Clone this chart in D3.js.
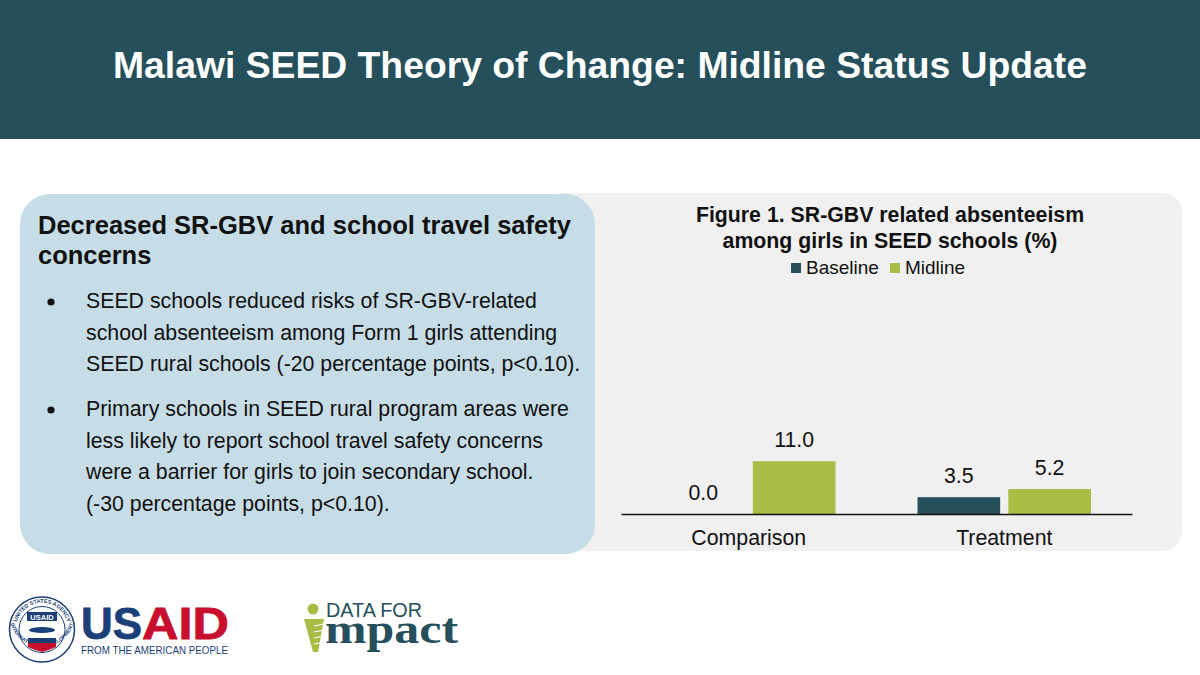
<!DOCTYPE html>
<html>
<head>
<meta charset="utf-8">
<script src="https://cdn.jsdelivr.net/npm/d3@7"></script>
<style>
  html, body { margin: 0; padding: 0; background: #fff; }
  svg { display: block; }
  text { font-family: "Liberation Sans", Arial, sans-serif; fill: #111; }
</style>
</head>
<body>
<script>
// Data
const categories = ["Comparison", "Treatment"];
const seriesNames = ["Baseline", "Midline"];
const baseline = [0.0, 3.5];
const midline = [11.0, 5.2];

const pageTitle = "Malawi SEED Theory of Change: Midline Status Update";
const chartTitle = ["Figure 1. SR-GBV related absenteeism", "among girls in SEED schools (%)"];
const heading = ["Decreased SR-GBV and school travel safety", "concerns"];
const bullets = [
  ["SEED schools reduced risks of SR-GBV-related", "school absenteeism among Form 1 girls attending", "SEED rural schools (-20 percentage points, p<0.10)."],
  ["Primary schools in SEED rural program areas were", "less likely to report school travel safety concerns", "were a barrier for girls to join secondary school.", "(-30 percentage points, p<0.10)."]
];

const colors = { Baseline: "#264f5c", Midline: "#a7bd45" };

const svg = d3.select("body").append("svg")
  .attr("width", 1200)
  .attr("height", 675);

// Header band
svg.append("rect").attr("width", 1200).attr("height", 139).attr("fill", "#264f5c");
svg.append("text")
  .attr("x", 600).attr("y", 78)
  .attr("text-anchor", "middle")
  .style("font-size", "37.3px").style("font-weight", "bold").style("fill", "#fff")
  .text(pageTitle);

// Panels
svg.append("rect").attr("x", 540).attr("y", 193).attr("width", 642).attr("height", 358)
  .attr("rx", 20).attr("fill", "#f0f0f0");
svg.append("rect").attr("x", 20).attr("y", 194).attr("width", 575).attr("height", 360)
  .attr("rx", 30).attr("fill", "#c6dde7");

// Left text
svg.selectAll(".heading")
  .data(heading)
  .enter().append("text")
  .attr("class", "heading")
  .attr("x", 38)
  .attr("y", (d, i) => 234 + i * 30)
  .style("font-size", "25.5px").style("font-weight", "bold")
  .text(d => d);

const bulletTop = [308, 416];
const lineGap = 31.6;
bullets.forEach((lines, b) => {
  svg.append("circle").attr("cx", 51).attr("cy", bulletTop[b] - 6).attr("r", 3.6).attr("fill", "#111");
  svg.selectAll(".b" + b)
    .data(lines)
    .enter().append("text")
    .attr("class", "b" + b)
    .attr("x", 86)
    .attr("y", (d, i) => bulletTop[b] + i * lineGap)
    .style("font-size", "21.3px")
    .text(d => d);
});

// Chart
const margin = { left: 621, top: 300, right: 68, bottom: 161 };
const plotW = 1200 - margin.left - margin.right;
const plotH = 675 - margin.top - margin.bottom;
const chart = svg.append("g").attr("transform", `translate(${margin.left},${margin.top})`);

const x0 = d3.scaleBand().domain(categories).range([0, plotW]);
const x1 = d3.scaleBand().domain(seriesNames).range([41, x0.bandwidth() - 41]).paddingInner(0.09);
const y = d3.scaleLinear().domain([0, 44.6]).range([plotH, 0]);

const rows = categories.map((c, i) => ({ c, Baseline: baseline[i], Midline: midline[i] }));
const groups = chart.selectAll(".group").data(rows).enter().append("g")
  .attr("class", "group")
  .attr("transform", d => `translate(${x0(d.c)},0)`);

const cells = groups.selectAll("g")
  .data(d => seriesNames.map(s => ({ s, v: d[s] })))
  .enter().append("g");

cells.append("rect")
  .attr("x", d => x1(d.s))
  .attr("y", d => y(d.v))
  .attr("width", x1.bandwidth())
  .attr("height", d => plotH - y(d.v))
  .attr("fill", d => colors[d.s]);

cells.append("text")
  .attr("x", d => x1(d.s) + x1.bandwidth() / 2)
  .attr("y", d => y(d.v) - 14)
  .attr("text-anchor", "middle")
  .style("font-size", "21.3px")
  .text(d => d.v.toFixed(1));

const xAxis = chart.append("g")
  .attr("transform", `translate(0,${plotH})`)
  .call(d3.axisBottom(x0).tickSize(0).tickPadding(16));
xAxis.select(".domain").attr("stroke", "#111").attr("stroke-width", 1.6);
xAxis.selectAll("text")
  .style("font-size", "21.3px")
  .style("font-family", '"Liberation Sans", Arial, sans-serif')
  .style("fill", "#111");

// Chart title
svg.selectAll(".ctitle")
  .data(chartTitle)
  .enter().append("text")
  .attr("class", "ctitle")
  .attr("x", 890)
  .attr("y", (d, i) => 222 + i * 26)
  .attr("text-anchor", "middle")
  .style("font-size", "21.3px").style("font-weight", "bold")
  .text(d => d);

// Legend
const legendX = { Baseline: 791, Midline: 890 };
seriesNames.forEach(s => {
  svg.append("rect").attr("x", legendX[s]).attr("y", 263).attr("width", 10).attr("height", 10).attr("fill", colors[s]);
  svg.append("text").attr("x", legendX[s] + 15).attr("y", 274)
    .style("font-size", "19px").text(s);
});

// USAID logo
const usaid = svg.append("g");
usaid.append("circle").attr("cx", 42).attr("cy", 629.5).attr("r", 32.5)
  .attr("fill", "#fff").attr("stroke", "#1c3f78").attr("stroke-width", 1.5);
usaid.append("circle").attr("cx", 42).attr("cy", 629.5).attr("r", 23)
  .attr("fill", "#fff").attr("stroke", "#1c3f78").attr("stroke-width", 1);
usaid.append("path").attr("id", "sealTop").attr("d", "M17,636 A26,26 0 1 1 67,636").attr("fill", "none");
usaid.append("path").attr("id", "sealBot").attr("d", "M10,622 A33,33 0 0 0 74,622").attr("fill", "none");
usaid.append("text").style("font-size", "5.5px").style("font-weight", "bold").style("fill", "#1c3f78")
  .append("textPath").attr("href", "#sealTop").attr("startOffset", "50%").attr("text-anchor", "middle")
  .text("UNITED STATES AGENCY");
usaid.append("text").style("font-size", "5.2px").style("font-weight", "bold").style("fill", "#1c3f78")
  .append("textPath").attr("href", "#sealBot").attr("startOffset", "50%").attr("text-anchor", "middle")
  .attr("dy", "-1")
  .text("INTERNATIONAL DEVELOPMENT");
usaid.append("rect").attr("x", 27).attr("y", 612).attr("width", 30).attr("height", 9).attr("fill", "#1c3f78");
usaid.append("text").attr("x", 42).attr("y", 619.5).attr("text-anchor", "middle")
  .style("font-size", "7.5px").style("font-weight", "bold").style("fill", "#fff").text("USAID");
usaid.append("ellipse").attr("cx", 42).attr("cy", 630).attr("rx", 13).attr("ry", 3).attr("fill", "#1c3f78");
usaid.append("rect").attr("x", 28).attr("y", 638).attr("width", 28).attr("height", 5).attr("fill", "#1c3f78");
usaid.append("path").attr("d", "M28,643 H56 V647 Q50,650 42,652 Q34,650 28,647 Z").attr("fill", "#c8102e");
usaid.append("text").attr("x", 81).attr("y", 639)
  .style("font-size", "44px").style("font-weight", "bold").style("fill", "#1c3f78")
  .style("stroke", "#1c3f78").style("stroke-width", 0.8)
  .attr("textLength", 61).attr("lengthAdjust", "spacingAndGlyphs").text("US");
usaid.append("text").attr("x", 142).attr("y", 639)
  .style("font-size", "44px").style("font-weight", "bold").style("fill", "#c8102e")
  .style("stroke", "#c8102e").style("stroke-width", 0.8)
  .attr("textLength", 87).attr("lengthAdjust", "spacingAndGlyphs").text("AID");
usaid.append("text").attr("x", 81).attr("y", 653.5)
  .style("font-size", "11px").style("fill", "#1c3f78")
  .attr("textLength", 147).attr("lengthAdjust", "spacingAndGlyphs").text("FROM THE AMERICAN PEOPLE");

// Data for Impact logo
const dfi = svg.append("g");
dfi.append("circle").attr("cx", 313).attr("cy", 609).attr("r", 5.5).attr("fill", "#a7bd45");
dfi.append("path").attr("d", "M304,619 H324 L318,652 H313 Z").attr("fill", "#a7bd45");
[626, 632, 638, 644].forEach(ly => {
  dfi.append("line").attr("x1", 314).attr("x2", 324).attr("y1", ly).attr("y2", ly - 2)
    .attr("stroke", "#fff").attr("stroke-width", 1.2);
});
dfi.append("text").attr("x", 326).attr("y", 617)
  .style("font-size", "20px").style("fill", "#264f5c")
  .attr("textLength", 96).attr("lengthAdjust", "spacingAndGlyphs").text("DATA FOR");
dfi.append("text").attr("x", 325).attr("y", 643)
  .style("font-family", '"Liberation Serif", serif').style("font-size", "43px").style("font-weight", "bold").style("fill", "#264f5c")
  .attr("textLength", 133).attr("lengthAdjust", "spacingAndGlyphs").text("mpact");
</script>
</body>
</html>
